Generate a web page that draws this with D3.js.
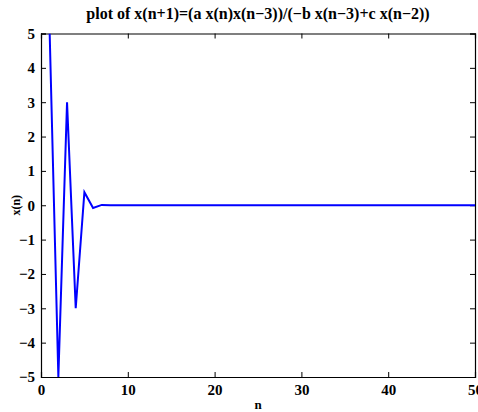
<!DOCTYPE html>
<html>
<head>
<meta charset="utf-8">
<script src="https://cdn.jsdelivr.net/npm/d3@7"></script>
<style>
  body { margin: 0; background: #fff; }
  text { font-family: "Liberation Serif", "DejaVu Serif", serif; font-weight: bold; }
</style>
</head>
<body>
<div id="chart"></div>
<script>
// data
var nValues = d3.range(1, 51);
var xValues = [5, -5, 3, -3, 0.38, -0.08, 0.01, 0, 0, 0,
  0, 0, 0, 0, 0, 0, 0, 0, 0, 0,
  0, 0, 0, 0, 0, 0, 0, 0, 0, 0,
  0, 0, 0, 0, 0, 0, 0, 0, 0, 0,
  0, 0, 0, 0, 0, 0, 0, 0, 0, 0];
var xTicks = [0, 10, 20, 30, 40, 50];
var yTicks = [-5, -4, -3, -2, -1, 0, 1, 2, 3, 4, 5];
var titleText = "plot of x(n+1)=(a x(n)x(n\u22123))/(\u2212b x(n\u22123)+c x(n\u22122))";

var svgWidth = 478;
var svgHeight = 412;
var margin = { top: 33.5, right: 3, bottom: 35, left: 41 };
var width = svgWidth - margin.left - margin.right;
var height = svgHeight - margin.top - margin.bottom;

var svg = d3.select("#chart")
  .append("svg")
  .attr("width", svgWidth)
  .attr("height", svgHeight);

var chartGroup = svg.append("g")
  .attr("transform", `translate(${margin.left}, ${margin.top})`);

var xScale = d3.scaleLinear().domain([0, 50]).range([0, width]);
var yScale = d3.scaleLinear().domain([-5, 5]).range([height, 0]);

var fmt = d => d < 0 ? "\u2212" + Math.abs(d) : String(d);

// axes, ticks pointing inward
var xAxis = d3.axisBottom(xScale).tickValues(xTicks).tickSize(-5).tickPadding(7).tickFormat(fmt);
var yAxis = d3.axisLeft(yScale).tickValues(yTicks).tickSize(-5).tickPadding(6).tickFormat(fmt);
var xTop = d3.axisTop(xScale).tickValues(xTicks).tickSize(-5).tickFormat("");
var yRight = d3.axisRight(yScale).tickValues(yTicks).tickSize(-5).tickFormat("");

chartGroup.append("g").attr("class", "axis")
  .attr("transform", `translate(0, ${height})`).call(xAxis);
chartGroup.append("g").attr("class", "axis").call(yAxis);
chartGroup.append("g").attr("class", "axis").call(xTop);
chartGroup.append("g").attr("class", "axis")
  .attr("transform", `translate(${width}, 0)`).call(yRight);

chartGroup.selectAll(".axis path").attr("stroke", "#000").attr("stroke-width", 1.2);
chartGroup.selectAll(".axis line").attr("stroke", "#000").attr("stroke-width", 1);
chartGroup.selectAll(".axis text")
  .attr("fill", "#000")
  .style("font-size", "15px")
  .style("font-family", "Liberation Serif")
  .style("font-weight", "bold");

// clip line to axes box
svg.append("defs").append("clipPath").attr("id", "clip")
  .append("rect").attr("width", width).attr("height", height);

var line = d3.line()
  .x((d, i) => xScale(nValues[i]))
  .y(d => yScale(d));

chartGroup.append("path")
  .datum(xValues)
  .attr("clip-path", "url(#clip)")
  .attr("fill", "none")
  .attr("stroke", "#0000ff")
  .attr("stroke-width", 2)
  .attr("d", line);

// title
svg.append("text")
  .attr("x", margin.left + width / 2)
  .attr("y", 19)
  .attr("text-anchor", "middle")
  .style("font-size", "16px")
  .text(titleText);

// x label
svg.append("text")
  .attr("x", margin.left + width / 2)
  .attr("y", 409)
  .attr("text-anchor", "middle")
  .style("font-size", "13px")
  .text("n");

// y label
svg.append("text")
  .attr("transform", `translate(20, ${margin.top + height / 2}) rotate(-90)`)
  .attr("text-anchor", "middle")
  .style("font-size", "12px")
  .text("x(n)");
</script>
</body>
</html>
